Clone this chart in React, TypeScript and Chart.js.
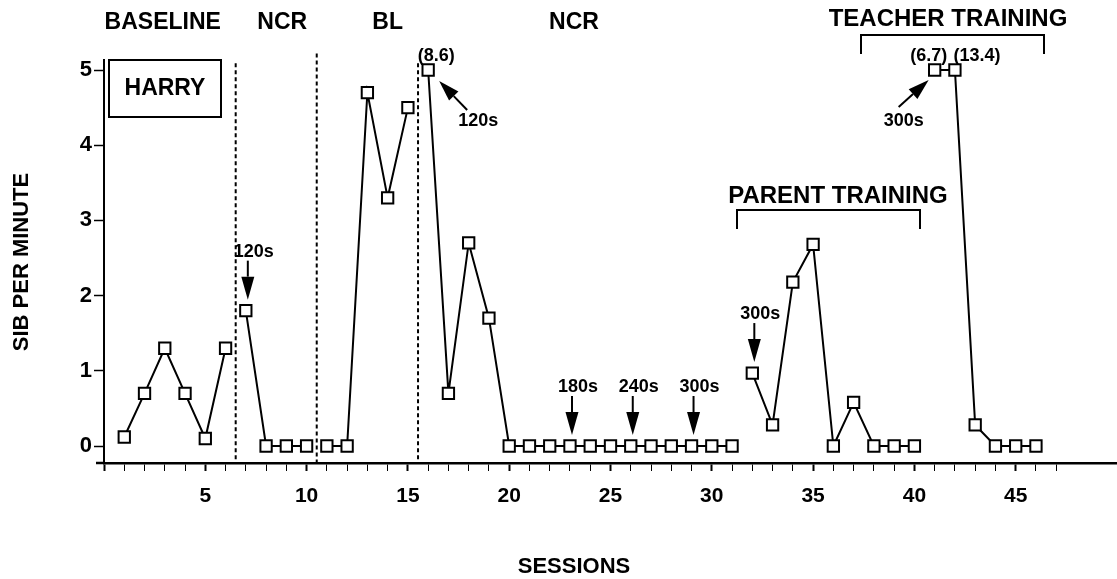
import React, { useEffect, useRef } from 'react';
import { Chart, registerables } from 'chart.js';
Chart.register(...registerables);

// ---- data ----
const baselineSessions = [1, 2, 3, 4, 5, 6];
const baselineRates = [0.12, 0.7, 1.3, 0.7, 0.1, 1.3];
const ncr1Sessions = [7, 8, 9, 10];
const ncr1Rates = [1.8, 0, 0, 0];
const blSessions = [11, 12, 13, 14, 15];
const blRates = [0, 0, 4.7, 3.3, 4.5];
const ncr2Sessions = [16, 17, 18, 19, 20, 21, 22, 23, 24, 25, 26, 27, 28, 29, 30, 31];
const ncr2Rates = [5, 0.7, 2.7, 1.7, 0, 0, 0, 0, 0, 0, 0, 0, 0, 0, 0, 0];
const parentSessions = [32, 33, 34, 35, 36, 37, 38, 39, 40];
const parentRates = [0.97, 0.28, 2.18, 2.68, 0, 0.58, 0, 0, 0];
const teacherSessions = [41, 42, 43, 44, 45, 46];
const teacherRates = [5, 5, 0.28, 0, 0, 0];

const phaseChanges = [6.5, 10.5, 15.5];
const phaseLineTops = [5.09, 5.22, 5.09];
const xTickLabels = [5, 10, 15, 20, 25, 30, 35, 40, 45];
const yTickValues = [0, 1, 2, 3, 4, 5];

const phaseNames = ['BASELINE', 'NCR', 'BL', 'NCR'];
const phaseNameSessions = [2.9, 8.8, 14.0, 23.2];

const downArrowSessions = [7, 23, 26, 29, 32];
const downArrowLabels = ['120s', '180s', '240s', '300s', '300s'];
const diagArrowSessions = [16, 41];
const diagArrowLabels = ['120s', '300s'];
const offScaleSessions = [16, 41, 42];
const offScaleLabels = ['(8.6)', '(6.7)', '(13.4)'];

const toPts = (xs: number[], ys: number[]) => xs.map((x, i) => ({ x, y: ys[i] }));

const FONT = "'Liberation Sans', Arial, Helvetica, sans-serif";

function arrow(ctx: CanvasRenderingContext2D, x1: number, y1: number, x2: number, y2: number, headLen: number, headW: number) {
  const ang = Math.atan2(y2 - y1, x2 - x1);
  const bx = x2 - headLen * Math.cos(ang);
  const by = y2 - headLen * Math.sin(ang);
  ctx.beginPath();
  ctx.moveTo(x1, y1);
  ctx.lineTo(bx, by);
  ctx.lineWidth = 2;
  ctx.strokeStyle = '#000';
  ctx.stroke();
  const px = -Math.sin(ang) * headW / 2;
  const py = Math.cos(ang) * headW / 2;
  ctx.beginPath();
  ctx.moveTo(x2, y2);
  ctx.lineTo(bx + px, by + py);
  ctx.lineTo(bx - px, by - py);
  ctx.closePath();
  ctx.fillStyle = '#000';
  ctx.fill();
}

const annotations = {
  id: 'annotations',
  afterDraw(chart: any) {
    const ctx: CanvasRenderingContext2D = chart.ctx;
    const xs = chart.scales.x;
    const ys = chart.scales.y;
    const X = (v: number) => xs.getPixelForValue(v);
    const Y = (v: number) => ys.getPixelForValue(v);
    const yVal = (s: number) => {
      const all = [
        ...toPts(baselineSessions, baselineRates), ...toPts(ncr1Sessions, ncr1Rates),
        ...toPts(blSessions, blRates), ...toPts(ncr2Sessions, ncr2Rates),
        ...toPts(parentSessions, parentRates), ...toPts(teacherSessions, teacherRates),
      ];
      const p = all.find((q) => q.x === s);
      return p ? p.y : 0;
    };
    ctx.save();
    // x axis extension to the left of the y axis
    ctx.strokeStyle = '#000';
    ctx.lineWidth = 2.5;
    ctx.beginPath();
    ctx.moveTo(96, chart.chartArea.bottom);
    ctx.lineTo(chart.chartArea.left, chart.chartArea.bottom);
    ctx.stroke();

    // phase change lines
    ctx.lineWidth = 2;
    ctx.setLineDash([4, 3]);
    phaseChanges.forEach((p, i) => {
      ctx.beginPath();
      ctx.moveTo(X(p), Y(phaseLineTops[i]));
      ctx.lineTo(X(p), chart.chartArea.bottom);
      ctx.stroke();
    });
    ctx.setLineDash([]);

    ctx.fillStyle = '#000';
    ctx.textAlign = 'center';
    ctx.textBaseline = 'middle';
    // phase titles
    ctx.font = `bold 23px ${FONT}`;
    phaseNames.forEach((n, i) => ctx.fillText(n, X(phaseNameSessions[i]), 23));
    ctx.font = `bold 24px ${FONT}`;
    ctx.fillText('TEACHER TRAINING', 948, 19);
    ctx.fillText('PARENT TRAINING', 838, 196);

    // brackets
    ctx.lineWidth = 2;
    const bracket = (x1: number, x2: number, y: number, h: number) => {
      ctx.beginPath();
      ctx.moveTo(x1, y + h);
      ctx.lineTo(x1, y);
      ctx.lineTo(x2, y);
      ctx.lineTo(x2, y + h);
      ctx.stroke();
    };
    bracket(861, 1044, 35, 19);
    bracket(737, 920, 210, 19);

    // participant box
    ctx.font = `bold 23px ${FONT}`;
    ctx.strokeRect(109, 60, 112, 57);
    ctx.fillText('HARRY', 165, 89);

    // axis titles
    ctx.font = `bold 22px ${FONT}`;
    ctx.fillText('SESSIONS', 574, 567);
    ctx.save();
    ctx.translate(22, 262);
    ctx.rotate(-Math.PI / 2);
    ctx.fillText('SIB PER MINUTE', 0, 0);
    ctx.restore();

    // off-scale values
    ctx.font = `bold 18px ${FONT}`;
    const offX = [8, -6, 22];
    offScaleSessions.forEach((s, i) => ctx.fillText(offScaleLabels[i], X(s) + offX[i], Y(yVal(s)) - 14));

    // downward arrows
    downArrowSessions.forEach((s, i) => {
      const x = X(s) + 2;
      const tip = Y(yVal(s)) - 11;
      arrow(ctx, x, tip - 39, x, tip, 23, 13);
      ctx.fillText(downArrowLabels[i], x + 6, tip - 48);
    });

    // diagonal arrows
    const diag = [
      { tip: [11, 11], tail: [39, 40], label: [50, 51] },
      { tip: [-6, 10], tail: [-36, 37], label: [-31, 51] },
    ];
    diagArrowSessions.forEach((s, i) => {
      const mx = X(s);
      const my = Y(yVal(s));
      const d = diag[i];
      arrow(ctx, mx + d.tail[0], my + d.tail[1], mx + d.tip[0], my + d.tip[1], 21, 13);
      ctx.fillText(diagArrowLabels[i], mx + d.label[0], my + d.label[1]);
    });
    ctx.restore();
  },
};

export default function App() {
  const ref = useRef<HTMLCanvasElement>(null);
  useEffect(() => {
    const mk = (xs: number[], ys: number[]) => ({
      data: toPts(xs, ys),
      showLine: true,
      borderColor: '#000',
      borderWidth: 2,
      pointStyle: 'rect',
      pointRadius: 8,
      pointBorderWidth: 2,
      pointBackgroundColor: '#fff',
      pointBorderColor: '#000',
      clip: false as any,
    });
    const chart = new Chart(ref.current!, {
      type: 'scatter',
      data: {
        datasets: [
          mk(baselineSessions, baselineRates),
          mk(ncr1Sessions, ncr1Rates),
          mk(blSessions, blRates),
          mk(ncr2Sessions, ncr2Rates),
          mk(parentSessions, parentRates),
          mk(teacherSessions, teacherRates),
        ] as any,
      },
      options: {
        animation: false,
        responsive: false,
        devicePixelRatio: 1,
        layout: { autoPadding: false, padding: { left: 0, top: 60, right: 0, bottom: 0 } },
        plugins: { legend: { display: false }, tooltip: { enabled: false } },
        scales: {
          x: {
            type: 'linear',
            min: 0,
            max: 50,
            afterFit: (s: any) => { s.height = 116; s.paddingLeft = 0; s.paddingRight = 0; },
            afterBuildTicks: (s: any) => { s.ticks = s.ticks.filter((t: any) => Number.isInteger(t.value) && t.value <= 47); },
            ticks: {
              stepSize: 1,
              autoSkip: false,
              maxRotation: 0,
              padding: 13,
              color: '#000',
              font: { family: FONT, size: 21, weight: 'bold' },
              callback: (v: any) => (xTickLabels.includes(v) ? String(v) : ''),
            },
            grid: {
              drawOnChartArea: false,
              drawTicks: true,
              tickLength: 8,
              tickColor: '#000',
              tickWidth: (c: any) => (c.tick && c.tick.value % 5 === 0 ? 2 : 1),
            },
            border: { display: true, color: '#000', width: 2.5 },
          },
          y: {
            type: 'linear',
            min: -0.226,
            max: 5.133,
            afterFit: (s: any) => { s.width = 104; s.paddingTop = 0; s.paddingBottom = 0; },
            afterBuildTicks: (s: any) => { s.ticks = yTickValues.map((v) => ({ value: v })); },
            ticks: {
              stepSize: 1,
              padding: 2,
              color: '#000',
              font: { family: FONT, size: 22, weight: 'bold' },
            },
            grid: {
              drawOnChartArea: false,
              drawTicks: true,
              tickLength: 10,
              tickColor: '#000',
              tickWidth: 1.5,
            },
            border: { display: true, color: '#000', width: 2 },
          },
        },
      },
      plugins: [annotations],
    });
    return () => chart.destroy();
  }, []);
  return (
    <div style={{ position: 'fixed', left: 0, top: 0, width: 1117, height: 579, background: '#fff' }}>
      <canvas ref={ref} width={1117} height={579} />
    </div>
  );
}
